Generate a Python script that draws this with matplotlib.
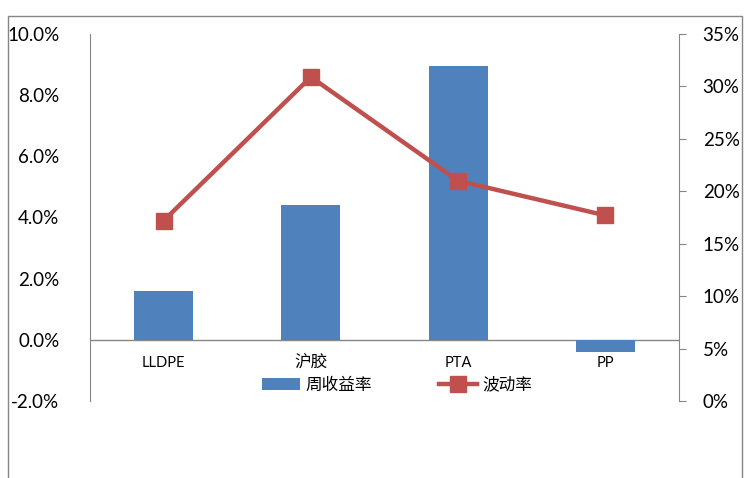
import matplotlib.pyplot as plt
from matplotlib.patches import Rectangle
from matplotlib.ticker import FuncFormatter

plt.rcParams['font.family'] = ['Lato', 'Noto Sans CJK SC', 'DejaVu Sans']

categories = ['LLDPE', '沪胶', 'PTA', 'PP']
weekly_return = [1.6, 4.4, 8.95, -0.4]      # 周收益率, %
volatility = [17.2, 30.9, 21.0, 17.7]       # 波动率, %
left_ticks = [-2, 0, 2, 4, 6, 8, 10]
right_ticks = [0, 5, 10, 15, 20, 25, 30, 35]

gray = '#868686'
blue = '#4F81BD'
red = '#C0504D'

fig = plt.figure(figsize=(7.53, 4.78), dpi=100)
fig.patches.append(Rectangle((8 / 753, -0.2), 734 / 753, 1.2 - 16 / 478,
                             transform=fig.transFigure, fill=False,
                             edgecolor=gray, linewidth=1.0))

ax = fig.add_axes([90 / 753, 77 / 478, 589 / 753, 367 / 478])
x = range(len(categories))
bars = ax.bar(x, weekly_return, width=0.4, color=blue, zorder=2)
ax.axhline(0, color=gray, linewidth=1.0, zorder=1)
ax.set_xlim(-0.5, len(categories) - 0.5)
ax.set_ylim(-2, 10)
ax.set_yticks(left_ticks)
ax.yaxis.set_major_formatter(FuncFormatter(lambda v, p: f'{v:.1f}%'))
ax.tick_params(axis='y', length=0, pad=22, labelsize=13.5)
ax.set_xticks([])
for s in ['top', 'bottom', 'right']:
    ax.spines[s].set_visible(False)
ax.spines['left'].set_color(gray)
for i, c in enumerate(categories):
    size = 12 if c == '沪胶' else 10.5
    ax.text(i, -0.75, c, ha='center', va='center', fontsize=size,
            family=['Lato', 'Noto Sans CJK SC'])

ax2 = ax.twinx()
line, = ax2.plot(x, volatility, color=red, linewidth=3.2, marker='s',
                 markersize=11, zorder=3)
ax2.set_ylim(0, 35)
ax2.set_yticks(right_ticks)
ax2.yaxis.set_major_formatter(FuncFormatter(lambda v, p: f'{v:.0f}%'))
ax2.tick_params(axis='y', direction='out', length=5, color=gray, pad=12, labelsize=13.5)
for s in ['top', 'bottom', 'left']:
    ax2.spines[s].set_visible(False)
ax2.spines['right'].set_color(gray)

ax.legend([bars, line], ['周收益率', '波动率'], loc='center',
          bbox_to_anchor=(397 / 753, (478 - 385) / 478),
          bbox_transform=fig.transFigure, ncol=2, frameon=False,
          handlelength=2.3, columnspacing=4.0, handletextpad=0.3,
          prop={'family': ['Noto Sans CJK SC'], 'size': 12})

plt.savefig('out.png', dpi=100)
